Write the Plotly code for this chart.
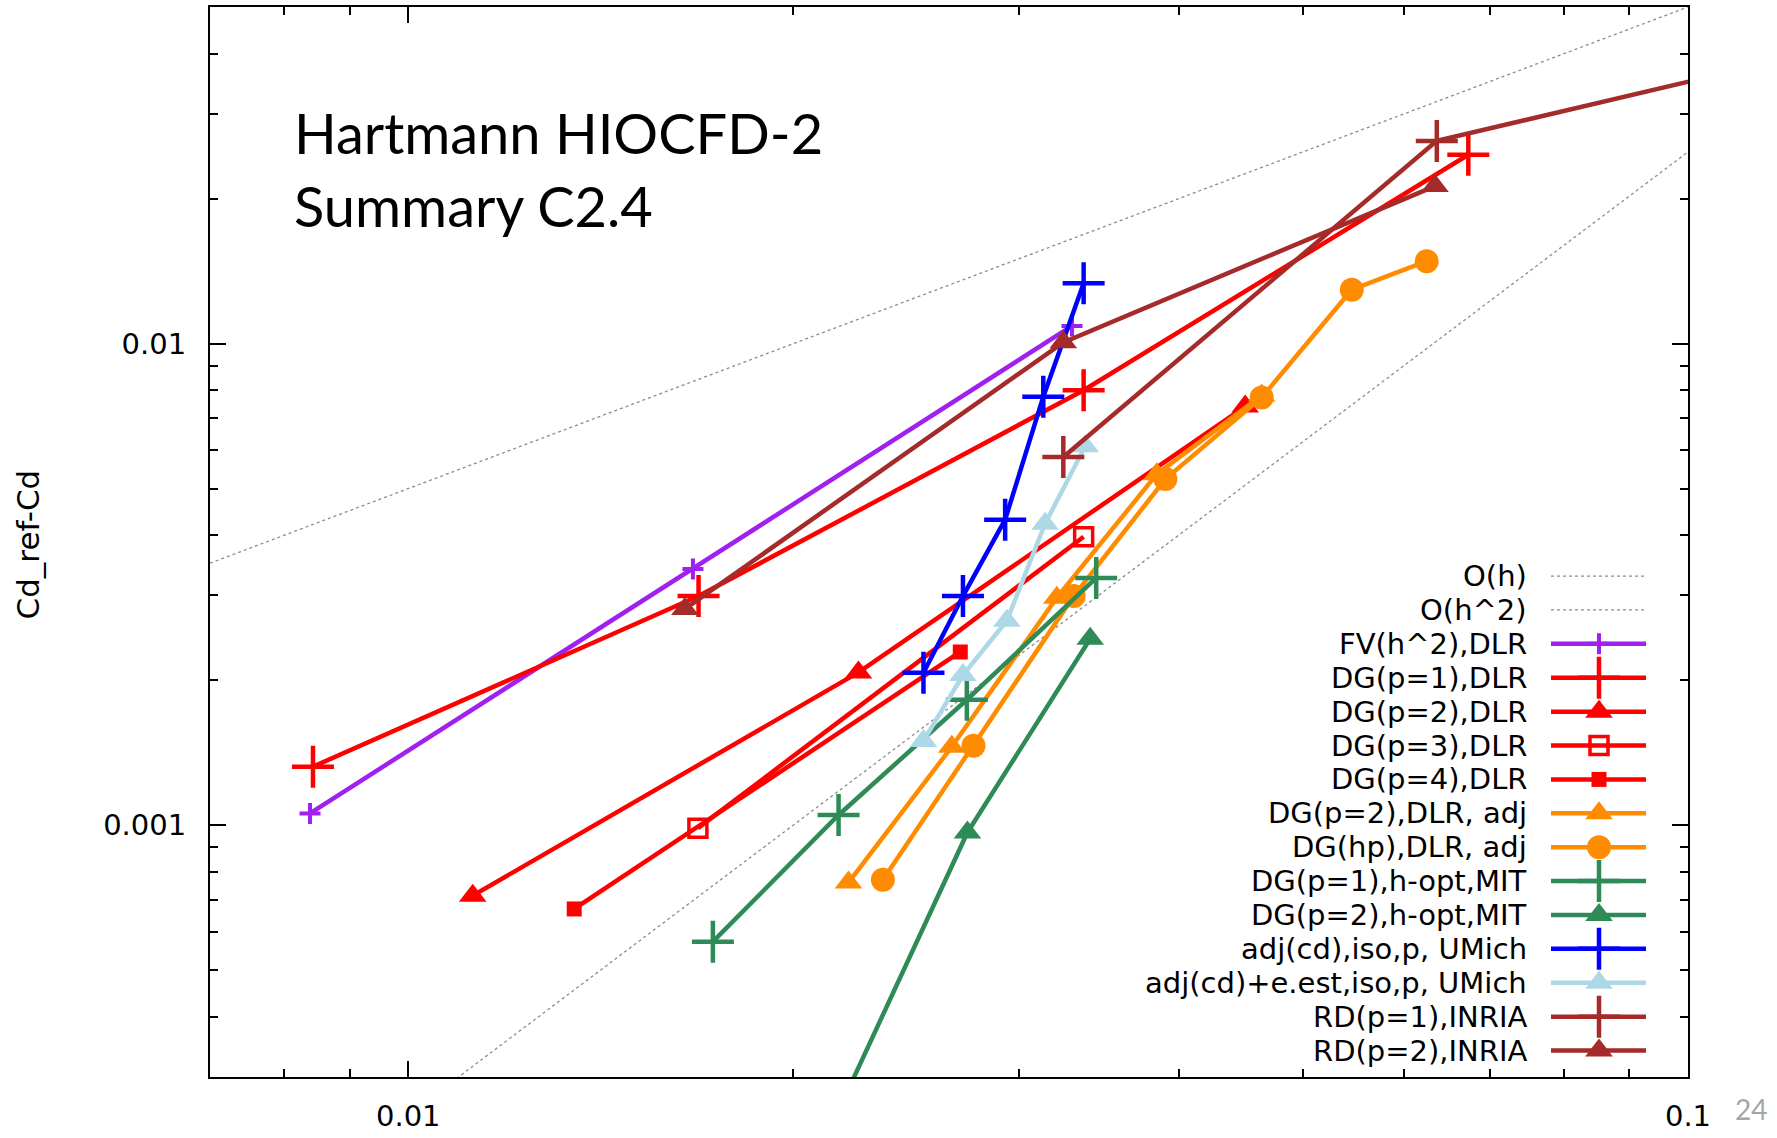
import math
import plotly.graph_objects as go

# ---------------- data ----------------
REF_H_X = [0.007, 0.1]
REF_H_Y = [0.0035, 0.05]
REF_H2_X = [0.0095, 0.1]
REF_H2_Y = [0.000226, 0.025]

FV_X = [0.00838, 0.01669, 0.03301]
FV_Y = [0.001058, 0.003404, 0.01088]

DG1_X = [0.008425, 0.01686, 0.03371, 0.06735]
DG1_Y = [0.001323, 0.002991, 0.0080, 0.02467]

DG2_X = [0.01123, 0.02248, 0.04508]
DG2_Y = [0.000714, 0.002076, 0.0074]

DG3_X = [0.01684, 0.03371]
DG3_Y = [0.000986, 0.003972]

DG4_X = [0.01348, 0.0270]
DG4_Y = [0.00067, 0.002289]

DG2ADJ_X = [0.02208, 0.02659, 0.03212, 0.03845, 0.04644]
DG2ADJ_Y = [0.00076, 0.001455, 0.002968, 0.005356, 0.0078]

DGHP_X = [0.02349, 0.02765, 0.03311, 0.03905, 0.04644, 0.05461, 0.06249]
DGHP_Y = [0.00077, 0.001462, 0.00299, 0.005232, 0.00773, 0.01294, 0.01483]

MIT1_X = [0.0173, 0.02169, 0.02732, 0.03448]
MIT1_Y = [0.000573, 0.00105, 0.001822, 0.003262]

MIT2_X = [0.0215, 0.02735, 0.03411]
MIT2_Y = [0.000243, 0.000966, 0.002438]

UM1_X = [0.02527, 0.02713, 0.02927, 0.03135, 0.03371]
UM1_Y = [0.002073, 0.002991, 0.004309, 0.00776, 0.01335]

UM2_X = [0.02527, 0.02713, 0.02936, 0.03145, 0.03381]
UM2_Y = [0.001496, 0.00205, 0.002658, 0.004228, 0.00612]

RD1_X = [0.0325, 0.06364, 0.127]
RD1_Y = [0.005814, 0.02636, 0.0406]

RD2_X = [0.01645, 0.0325, 0.06343]
RD2_Y = [0.002812, 0.01006, 0.02124]

X_TICKS = [0.01, 0.1]
X_TICKTEXT = ["0.01", "0.1"]
Y_TICKS = [0.001, 0.01]
Y_TICKTEXT = ["0.001", "0.01"]
X_MINOR = [0.008, 0.009, 0.02, 0.03, 0.04, 0.05, 0.06, 0.07, 0.08, 0.09]
Y_MINOR = [0.0003, 0.0004, 0.0005, 0.0006, 0.0007, 0.0008, 0.0009,
           0.002, 0.003, 0.004, 0.005, 0.006, 0.007, 0.008, 0.009,
           0.02, 0.03, 0.04, 0.05]

TITLE_LINES = ["Hartmann HIOCFD-2", "Summary C2.4"]
Y_TITLE = "Cd_ref-Cd"
PAGE_NO = "24"

# ---------------- styles ----------------
W, H = 1777, 1138
L, R, T, B = 210, 1688, 5, 1088   # plot area in pixels
FONT = "DejaVu Sans"
GRAY = "#8c8c8c"
LW = 4.5

PURPLE = "#a020f0"
RED = "#ff0000"
ORANGE = "#ff8c00"
GREEN = "#2e8b57"
BLUE = "#0000ff"
LBLUE = "#add8e6"
BROWN = "#a52a2a"


def px(x):
    return (x - L) / (R - L)


def py(y):
    return (B - y) / (B - T)


def mk(symbol, size, color, lw=0):
    d = dict(symbol=symbol, size=size, color=color)
    d["line"] = dict(width=lw, color=color)
    return d


TRI = 24
SERIES = [
    ("FV(h^2),DLR", FV_X, FV_Y, PURPLE, mk("cross-thin", 15, PURPLE, 4)),
    ("DG(p=1),DLR", DG1_X, DG1_Y, RED, mk("cross-thin", 30, RED, 4.5)),
    ("DG(p=2),DLR", DG2_X, DG2_Y, RED, mk("triangle-up", TRI, RED)),
    ("DG(p=3),DLR", DG3_X, DG3_Y, RED, mk("square-open", 18, RED, 3.5)),
    ("DG(p=4),DLR", DG4_X, DG4_Y, RED, mk("square", 15, RED)),
    ("DG(p=2),DLR, adj", DG2ADJ_X, DG2ADJ_Y, ORANGE, mk("triangle-up", TRI, ORANGE)),
    ("DG(hp),DLR, adj", DGHP_X, DGHP_Y, ORANGE, mk("circle", 24, ORANGE)),
    ("DG(p=1),h-opt,MIT", MIT1_X, MIT1_Y, GREEN, mk("cross-thin", 30, GREEN, 4.5)),
    ("DG(p=2),h-opt,MIT", MIT2_X, MIT2_Y, GREEN, mk("triangle-up", TRI, GREEN)),
    ("adj(cd),iso,p, UMich", UM1_X, UM1_Y, BLUE, mk("cross-thin", 30, BLUE, 4.5)),
    ("adj(cd)+e.est,iso,p, UMich", UM2_X, UM2_Y, LBLUE, mk("triangle-up", TRI, LBLUE)),
    ("RD(p=1),INRIA", RD1_X, RD1_Y, BROWN, mk("cross-thin", 30, BROWN, 4.5)),
    ("RD(p=2),INRIA", RD2_X, RD2_Y, BROWN, mk("triangle-up", TRI, BROWN)),
]

fig = go.Figure()

# reference slopes
for xs, ys in [(REF_H_X, REF_H_Y), (REF_H2_X, REF_H2_Y)]:
    fig.add_trace(go.Scatter(x=xs, y=ys, mode="lines",
                             line=dict(color=GRAY, width=1.3, dash="dot"),
                             showlegend=False, hoverinfo="skip"))

for name, xs, ys, color, marker in SERIES:
    fig.add_trace(go.Scatter(x=xs, y=ys, mode="lines+markers", name=name,
                             line=dict(color=color, width=LW),
                             marker=marker, showlegend=False))

# ---------------- custom legend (right-aligned text, sample on the right) ----
LEG_Y0 = 581
LEG_DY = 34.3
LEG_TEXT_X = 1528
LEG_L0, LEG_L1, LEG_M = 1551, 1646, 1599

legend_rows = [("O(h)", GRAY, None, "dot"), ("O(h^2)", GRAY, None, "dot")]
legend_rows += [(n, c, m, "solid") for n, _, _, c, m in SERIES]

annotations = []
for i, (name, color, marker, dash) in enumerate(legend_rows):
    yy = LEG_Y0 + i * LEG_DY
    width = 1.3 if dash == "dot" else LW
    fig.add_trace(go.Scatter(x=[px(LEG_L0), px(LEG_L1)], y=[py(yy), py(yy)],
                             mode="lines", xaxis="x2", yaxis="y2",
                             line=dict(color=color, width=width, dash=dash),
                             showlegend=False, hoverinfo="skip"))
    if marker is not None:
        fig.add_trace(go.Scatter(x=[px(LEG_M)], y=[py(yy)], mode="markers",
                                 xaxis="x2", yaxis="y2", marker=marker,
                                 showlegend=False, hoverinfo="skip"))
    annotations.append(dict(x=px(LEG_TEXT_X), y=py(yy), xref="paper", yref="paper",
                            text=name, showarrow=False, xanchor="right",
                            yanchor="middle", borderpad=0,
                            font=dict(family=FONT, size=29, color="black")))

# title text
annotations.append(dict(x=px(292), y=py(96), xref="paper", yref="paper",
                        text="<br>".join(TITLE_LINES), showarrow=False,
                        xanchor="left", yanchor="top", align="left",
                        font=dict(family="Lato", size=56, color="black")))
# y axis title
annotations.append(dict(x=px(28), y=py(549), xref="paper", yref="paper",
                        text=Y_TITLE, showarrow=False, textangle=-90,
                        xanchor="center", yanchor="middle",
                        font=dict(family=FONT, size=31, color="black")))
# slide number
annotations.append(dict(x=px(1751), y=py(1120), xref="paper", yref="paper",
                        text=PAGE_NO, showarrow=False, xanchor="center",
                        yanchor="middle",
                        font=dict(family="Lato", size=28, color="#a6a6a6")))

axis_common = dict(type="log", showgrid=False, zeroline=False, showline=True,
                   linewidth=2, linecolor="black", mirror="allticks",
                   ticks="inside", ticklen=16, tickwidth=2, tickcolor="black",
                   tickfont=dict(family=FONT, size=29, color="black"))

fig.update_layout(
    width=W, height=H,
    margin=dict(l=L, r=W - R, t=T, b=H - B),
    paper_bgcolor="white", plot_bgcolor="white",
    showlegend=False,
    xaxis=dict(range=[math.log10(0.007), -1], tickvals=X_TICKS, ticktext=X_TICKTEXT,
               ticklabelstandoff=12,
               minor=dict(tickvals=X_MINOR, ticks="inside", ticklen=8, tickwidth=2,
                          tickcolor="black", showgrid=False),
               **axis_common),
    yaxis=dict(range=[math.log10(0.0003), math.log10(0.05)], tickvals=Y_TICKS,
               ticktext=Y_TICKTEXT, ticklabelstandoff=16,
               minor=dict(tickvals=Y_MINOR, ticks="inside", ticklen=8, tickwidth=2,
                          tickcolor="black", showgrid=False),
               **axis_common),
    xaxis2=dict(overlaying="x", range=[0, 1], visible=False, fixedrange=True),
    yaxis2=dict(overlaying="y", range=[0, 1], visible=False, fixedrange=True),
    annotations=annotations,
)

fig.write_html("out.html")
